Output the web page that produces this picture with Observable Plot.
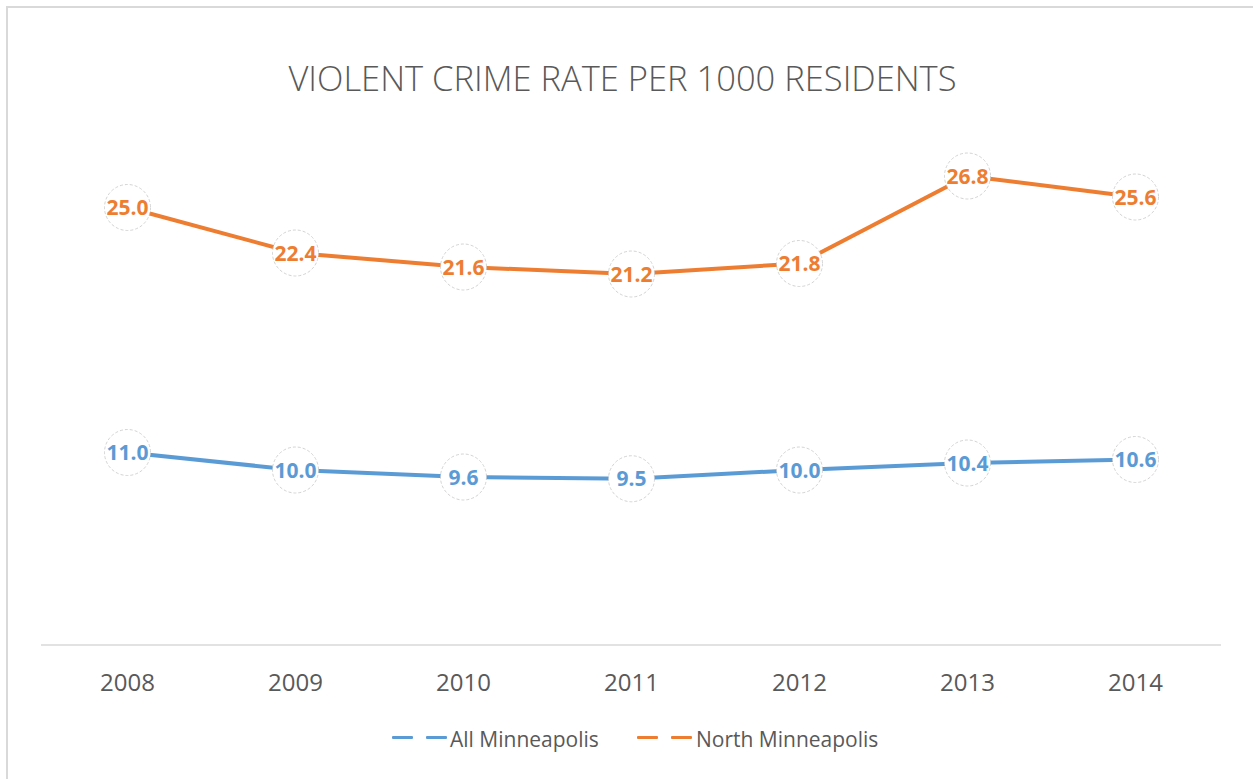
<!DOCTYPE html>
<html>
<head>
<meta charset="utf-8">
<script src="https://cdn.jsdelivr.net/npm/d3@7"></script>
<script src="https://cdn.jsdelivr.net/npm/@observablehq/plot@0.6"></script>
<style>
  html, body { margin: 0; padding: 0; background: #fff; overflow: hidden; }
  #page { position: relative; width: 1253px; height: 779px; overflow: hidden; font-family: "Open Sans", sans-serif; }
  #hline { position: absolute; left: 6px; top: 6px; width: 1247px; height: 2px; background: #d9d9d9; }
  #vline { position: absolute; left: 6px; top: 6px; width: 2px; height: 773px; background: #d9d9d9; }
  #title { position: absolute; left: 0; width: 1245px; top: 61px; text-align: center; font-size: 34.5px; line-height: 34px; font-weight: 300; color: #595959; }
  #chart { position: absolute; left: 0; top: 110px; }
  .leg { position: absolute; top: 729px; font-size: 21px; line-height: 20px; color: #595959; white-space: nowrap; }
  .dash { position: absolute; top: 736px; width: 21px; height: 3px; border-radius: 1px; }
</style>
</head>
<body>
<div id="page">
  <div id="hline"></div>
  <div id="vline"></div>
  <div id="title"></div>
  <div id="chart"></div>
  <div id="legend"></div>
</div>
<script>
const years = ["2008", "2009", "2010", "2011", "2012", "2013", "2014"];
const allMinneapolis = [11.0, 10.0, 9.6, 9.5, 10.0, 10.4, 10.6];
const northMinneapolis = [25.0, 22.4, 21.6, 21.2, 21.8, 26.8, 25.6];
const seriesNames = ["All Minneapolis", "North Minneapolis"];
const seriesColors = ["#5B9BD5", "#ED7D31"];
const titleText = "VIOLENT CRIME RATE PER 1000 RESIDENTS";

document.getElementById("title").textContent = titleText;

const rows = [];
[allMinneapolis, northMinneapolis].forEach((vals, si) => {
  vals.forEach((v, i) => rows.push({year: years[i], value: v, series: seriesNames[si]}));
});

const plot = Plot.plot({
  width: 1253,
  height: 600,
  marginLeft: 41,
  marginRight: 32,
  marginTop: 9.5,
  marginBottom: 65.5,
  style: {fontFamily: "Open Sans, sans-serif", background: "transparent"},
  x: {type: "point", domain: years, padding: 0.5, label: null},
  y: {domain: [0, 30], axis: null},
  color: {domain: seriesNames, range: seriesColors},
  marks: [
    Plot.ruleY([0], {stroke: "#d9d9d9", strokeWidth: 1.5}),
    Plot.line(rows, {x: "year", y: "value", z: "series", stroke: "series", strokeWidth: 4, strokeLinejoin: "round"}),
    Plot.dot(rows, {x: "year", y: "value", r: 23, fill: "white", stroke: "#c8c8c8", strokeWidth: 0.8, strokeDasharray: "3,2"}),
    Plot.text(rows, {x: "year", y: "value", text: d => d.value.toFixed(1), fill: "series", fontSize: 21, fontWeight: "bold", dy: 1}),
    Plot.axisX({tickSize: 0, tickPadding: 29, fontSize: 24, fill: "#595959", color: "#595959", label: null})
  ]
});
document.getElementById("chart").appendChild(plot);

const legend = document.getElementById("legend");
const legendPos = [{dash: 392, text: 450}, {dash: 637, text: 696}];
seriesNames.forEach((name, i) => {
  const p = legendPos[i];
  [0, 34].forEach(off => {
    const d = document.createElement("div");
    d.className = "dash";
    d.style.left = (p.dash + off) + "px";
    d.style.background = seriesColors[i];
    legend.appendChild(d);
  });
  const t = document.createElement("div");
  t.className = "leg";
  t.style.left = p.text + "px";
  t.textContent = name;
  legend.appendChild(t);
});
</script>
</body>
</html>
